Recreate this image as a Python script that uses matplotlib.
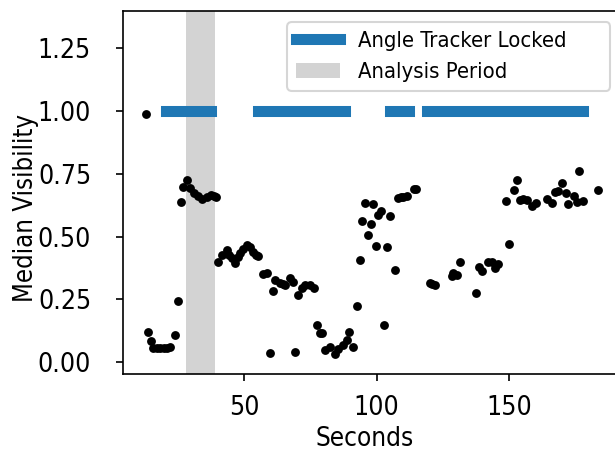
import matplotlib
matplotlib.use("Agg")
import matplotlib.pyplot as plt
from matplotlib import font_manager

# Median visibility samples (seconds, value)
seconds = [
    12.7, 13.7, 14.7, 15.6, 16.9, 18.2, 19.5, 20.8, 22.0, 23.8, 25.1, 26.1, 26.9,
    28.2, 29.5, 31.1, 32.6, 33.9, 35.8, 37.4, 38.5, 39.3,
    40.2, 41.7, 43.3, 44.3, 45.2, 46.5, 47.5, 48.4, 49.7, 50.9, 52.2, 53.4, 54.3,
    55.3, 57.0, 58.5, 59.7, 61.0, 61.6, 63.5, 64.7, 65.4, 67.3, 68.3, 69.2, 70.4,
    71.7, 72.9, 74.8, 76.3, 77.4, 78.6, 79.3, 80.5, 82.4, 84.3, 85.5, 87.4, 88.7,
    89.7, 91.2, 92.5, 93.7, 94.7, 95.6, 96.9, 97.8, 98.8, 99.8, 100.6, 101.7,
    102.9, 103.8, 105.1, 107.0, 108.2, 109.2, 110.1, 111.4, 114.1, 114.8,
    120.2, 120.8, 122.1, 128.4, 129.0, 130.3, 131.5, 137.8, 138.7, 140.0, 142.2,
    143.5, 144.7, 146.0, 148.9, 150.0, 151.9, 153.2, 154.2, 155.4, 156.9, 158.9,
    160.2, 164.3, 166.2, 167.4, 168.7, 170.3, 171.6, 172.4, 174.6, 175.9, 176.6,
    177.9, 183.8,
]
visibility = [
    0.988, 0.119, 0.086, 0.058, 0.055, 0.055, 0.055, 0.058, 0.062, 0.107, 0.244,
    0.639, 0.699, 0.726, 0.693, 0.675, 0.662, 0.650, 0.659, 0.666, 0.662, 0.657,
    0.400, 0.427, 0.447, 0.425, 0.414, 0.394, 0.420, 0.434, 0.450, 0.467, 0.460,
    0.440, 0.427, 0.423, 0.351, 0.357, 0.036, 0.285, 0.328, 0.317, 0.312, 0.308,
    0.334, 0.320, 0.042, 0.268, 0.295, 0.308, 0.308, 0.295, 0.148, 0.118, 0.115,
    0.049, 0.060, 0.033, 0.052, 0.069, 0.089, 0.119, 0.060, 0.225, 0.405, 0.564,
    0.635, 0.507, 0.551, 0.630, 0.464, 0.586, 0.603, 0.148, 0.460, 0.582, 0.367,
    0.655, 0.657, 0.659, 0.663, 0.688, 0.691,
    0.314, 0.312, 0.306, 0.344, 0.354, 0.348, 0.400, 0.277, 0.377, 0.365, 0.400,
    0.400, 0.374, 0.391, 0.642, 0.470, 0.686, 0.726, 0.646, 0.649, 0.646, 0.622,
    0.635, 0.651, 0.635, 0.679, 0.683, 0.715, 0.673, 0.630, 0.662, 0.639, 0.762,
    0.642, 0.686,
]

# Angle tracker locked intervals (seconds)
locked_start = [20.3, 55.3, 105.0, 119.1]
locked_end = [37.3, 88.1, 112.1, 177.9]

# Analysis period (seconds)
analysis_period = (28.0, 38.9)

# the reference text is narrow; use DejaVu Sans Condensed when it is there
if any(f.name == "DejaVu Sans" and "condensed" in str(f.stretch).lower()
       for f in font_manager.fontManager.ttflist):
    plt.rcParams["font.stretch"] = "condensed"

DPI = 150
H = 452
fig = plt.figure(figsize=(615 / DPI, H / DPI), dpi=DPI)
ax_x0, ax_x1, ax_top, ax_bot = 123, 620.9, 11, 374
ax_w, ax_h = ax_x1 - ax_x0, ax_bot - ax_top
ax = fig.add_axes([ax_x0 / 615, 1 - ax_bot / H, ax_w / 615, ax_h / H])

span = ax.axvspan(*analysis_period, color="lightgray", lw=0, label="Analysis Period")
locked = None
for x0, x1 in zip(locked_start, locked_end):
    (line,) = ax.plot([x0, x1], [1.0, 1.0], color="tab:blue", lw=5.3,
                      solid_capstyle="projecting", label="Angle Tracker Locked")
    locked = locked or line
ax.scatter(seconds, visibility, s=18, color="k", linewidths=0, zorder=3)

ax.set_xlim(4.15, 192.4)
ax.set_ylim(-0.047, 1.398)
ax.set_xticks([50, 100, 150])
ax.set_yticks([0.0, 0.25, 0.5, 0.75, 1.0, 1.25])
xlab = ax.set_xlabel("Seconds", fontsize=12)
ylab = ax.set_ylabel("Median Visibility", fontsize=12)


def make_legend(size):
    return ax.legend(handles=[locked, span], loc="upper left", mode="expand",
                     bbox_to_anchor=((287.3 - ax_x0) / ax_w, 0.0,
                                     (610 - 287.3) / ax_w, (ax_bot - 22.3) / ax_h),
                     borderaxespad=0, fontsize=size)


tick_size, ypad, xpad, leg_size = 12.0, 8.0, 5.0, 10.5
ax.tick_params(labelsize=tick_size)
leg = make_legend(leg_size)

# fit text sizes to the widths seen in the reference (ink width + side bearings)
fig.canvas.draw()
r = fig.canvas.get_renderer()
lab = [t for t in ax.get_yticklabels() if t.get_text() == "1.25"][0]
tick_size *= 53 / lab.get_window_extent(r).width
leg_size *= 209 / leg.get_texts()[0].get_window_extent(r).width
xlab.set_fontsize(12 * 98 / xlab.get_window_extent(r).width)
ylab.set_fontsize(12 * 188 / ylab.get_window_extent(r).height)
ax.tick_params(labelsize=tick_size)
leg.remove()
leg = make_legend(leg_size)

# then place them
fig.canvas.draw()
lab = [t for t in ax.get_yticklabels() if t.get_text() == "1.25"][0]
ypad += (lab.get_window_extent(r).x1 - 100.5) * 72 / DPI
lab = [t for t in ax.get_xticklabels() if t.get_text() == "50"][0]
xpad += (lab.get_window_extent(r).y1 - (H - 391.5)) * 72 / DPI
ax.tick_params(axis="y", pad=ypad)
ax.tick_params(axis="x", pad=xpad)
ax.xaxis.set_label_coords((364.5 - ax_x0) / ax_w, (ax_bot - 426) / ax_h)
yl_w = ylab.get_window_extent(r).width
ax.yaxis.set_label_coords((13 + yl_w - ax_x0) / ax_w, (ax_bot - 207.5) / ax_h)

fig.savefig("out.png", dpi=DPI)
